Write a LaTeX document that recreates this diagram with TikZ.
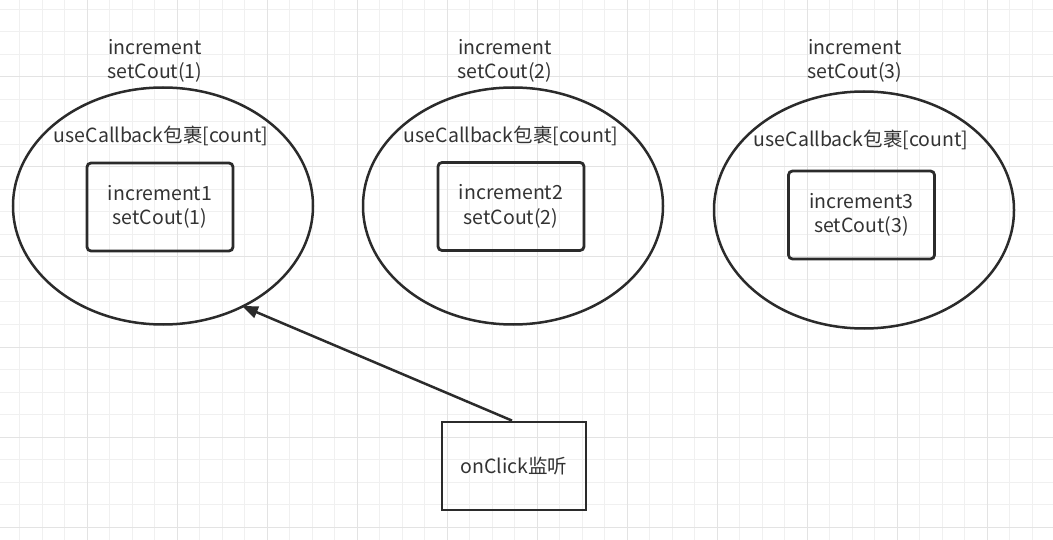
\documentclass[tikz,border=0pt]{standalone}
\usepackage{fontspec}
\setmainfont{Noto Sans CJK SC}
\usetikzlibrary{shapes.geometric,positioning,arrows.meta}

\definecolor{tratto}{HTML}{2B2B2B}
\definecolor{scritta}{HTML}{333333}
\definecolor{grigliafine}{HTML}{F0F0F0}
\definecolor{grigliagrossa}{HTML}{E3E3E3}
\newcommand{\testo}{\fontsize{19.5}{24.5}\selectfont}

\tikzset{
  bolla/.style={draw=tratto, line width=2.5pt, ellipse, minimum width=300pt, minimum height=237pt, inner sep=0pt},
  scatola/.style={draw=tratto, line width=2.8pt, rounded corners=4pt, minimum width=146pt, minimum height=88pt, inner sep=0pt, align=center, text=scritta, font=\testo},
  etichetta/.style={align=center, text=scritta, font=\testo, inner sep=0pt}
}

\begin{document}
\begin{tikzpicture}[x=1pt, y=-1pt, >=latex]
			% Definizioni per la griglia
			\def\W{1053}
			\def\H{540}
			
			\useasboundingbox (0,0) rectangle (\W,\H);
			\fill[white] (0,0) rectangle (\W,\H);
			
			% --- Griglia ---
			\foreach \x in {19.5,42,...,1053} \draw[grigliafine, line width=1pt] (\x,0) -- (\x,\H);
			\foreach \y in {9.5,32,...,540} \draw[grigliafine, line width=1pt] (0,\y) -- (\W,\y);
			\foreach \x in {87,177,...,1053} \draw[grigliagrossa, line width=1pt] (\x,0) -- (\x,\H);
			\foreach \y in {77,167,...,540} \draw[grigliagrossa, line width=1pt] (0,\y) -- (\W,\y);
			
			% --- Ellissi ---
			\node[bolla] (bolla1) at (163,206) {};
			\node[bolla] (bolla2) at (513,206) {};
			\node[bolla] (bolla3) at (864,210) {};
			
			% --- Etichette sopra ---
			\node[etichetta] (sopra1) at (155,61) {increment\\setCout(1)};
			\node[etichetta] (sopra2) at (505,61) {increment\\setCout(2)};
			\node[etichetta] (sopra3) at (855,61) {increment\\setCout(3)};
			
			% --- Etichette dentro ---
			\node[etichetta] (cb1) at (161,136) {useCallback包裹[count]};
			\node[etichetta] (cb2) at (511,136) {useCallback包裹[count]};
			\node[etichetta] (cb3) at (861,140) {useCallback包裹[count]};
			
			% --- Scatole ---
			\node[scatola] (inc1) at (160,207) {increment1\\setCout(1)};
			\node[scatola] (inc2) at (511,206.5) {increment2\\setCout(2)};
			\node[scatola] (inc3) at (861.5,215) {increment3\\setCout(3)};
			
			% --- Click ---
			\node[scatola, rounded corners=0pt, minimum width=144pt] (click) at (514,466) {onClick监听};
			\coordinate (punta) at (242,306);
			\draw[tratto, line width=2.5pt, -{Triangle[length=16pt, width=12pt]}] ([xshift=-2pt]click.north) -- (punta);
		\end{tikzpicture}
\end{document}
